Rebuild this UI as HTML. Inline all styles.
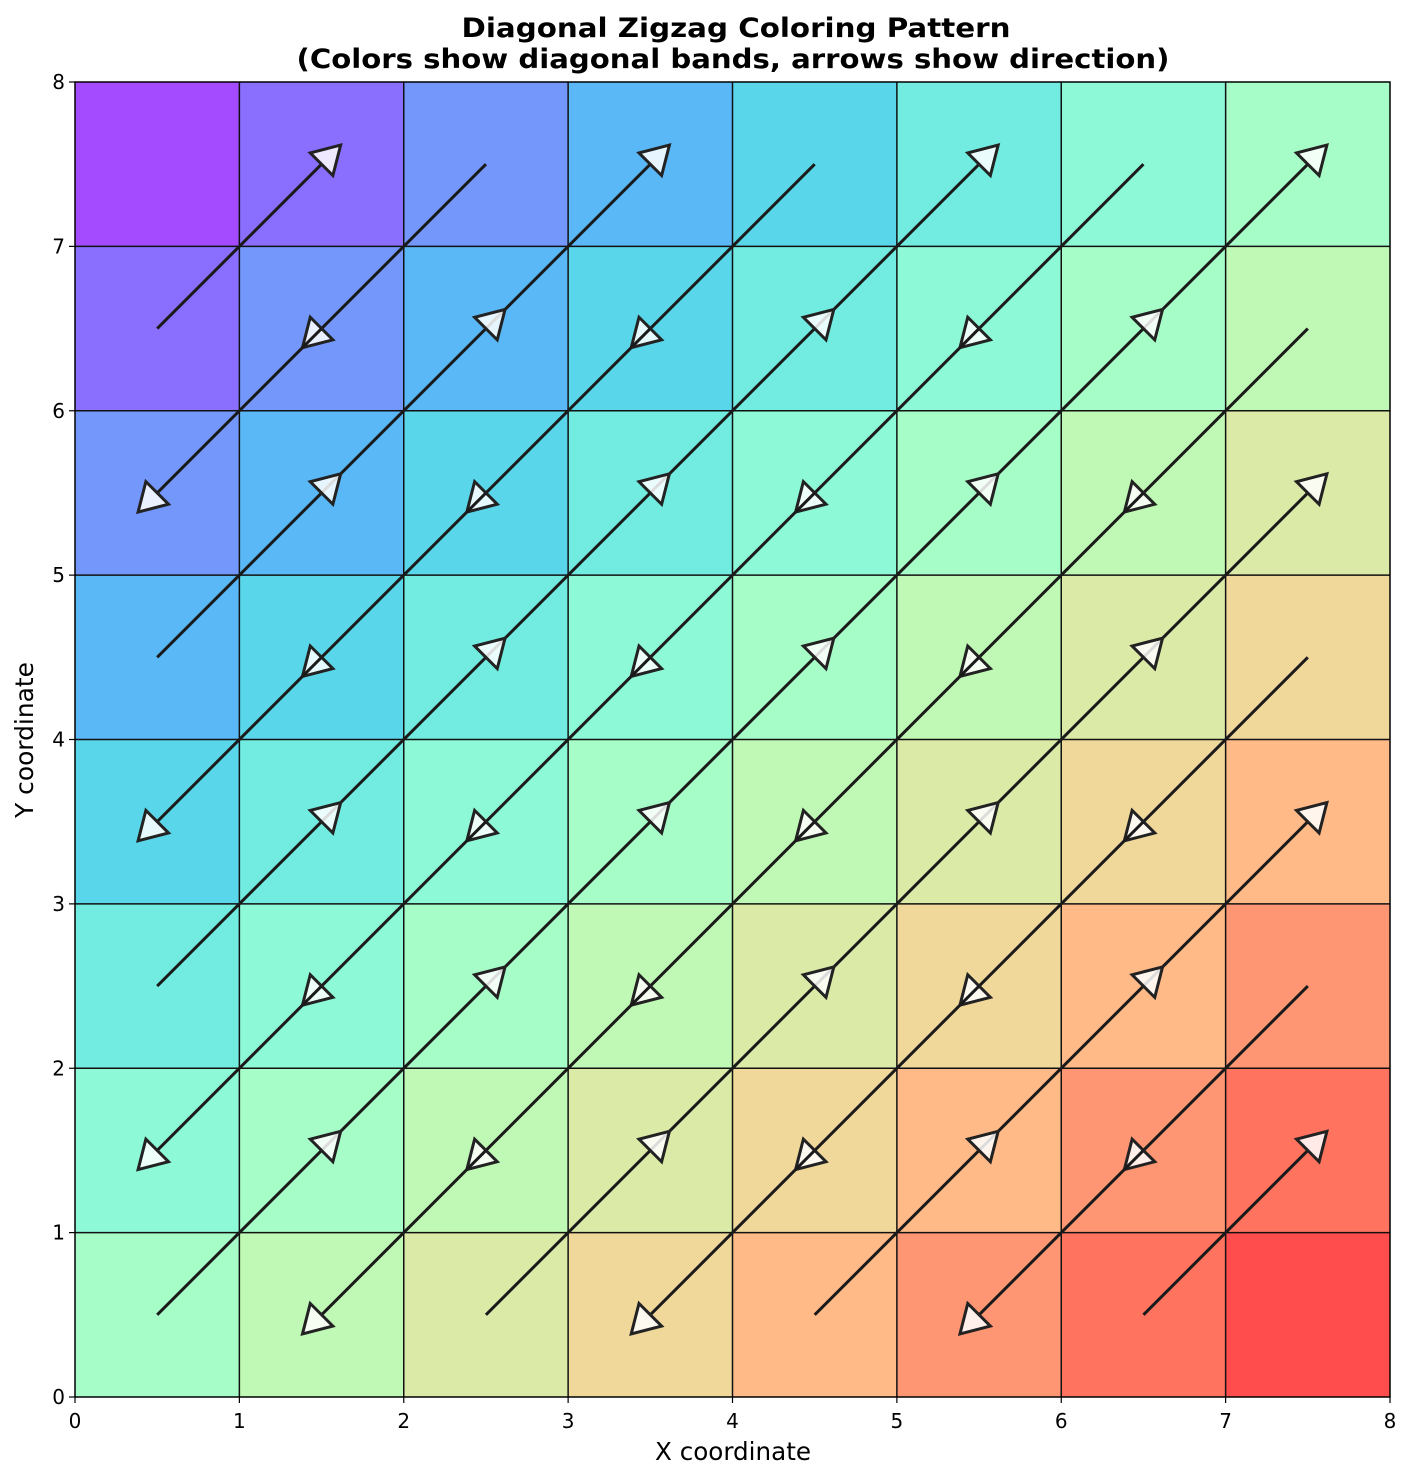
<!DOCTYPE html>
<html><head><meta charset="utf-8">
<style>
html,body{margin:0;padding:0;background:#fff;}
svg{display:block;font-family:"DejaVu Sans","Liberation Sans",sans-serif;}
</style></head>
<body>
<svg id="chart" width="1412" height="1479" viewBox="0 0 1412 1479">
<text x="736" y="37" text-anchor="middle" font-size="27" font-weight="bold" textLength="549" lengthAdjust="spacingAndGlyphs">Diagonal Zigzag Coloring Pattern</text>
<text x="733" y="68" text-anchor="middle" font-size="27" font-weight="bold" textLength="873" lengthAdjust="spacingAndGlyphs">(Colors show diagonal bands, arrows show direction)</text>
<g id="cells"></g><g id="grid"></g><g id="arrows"></g><g id="axes"></g>
<text x="733" y="1460" text-anchor="middle" font-size="25" textLength="156" lengthAdjust="spacingAndGlyphs">X coordinate</text>
<text transform="translate(33,740) rotate(-90)" text-anchor="middle" font-size="25" textLength="156" lengthAdjust="spacingAndGlyphs">Y coordinate</text>
</svg>
<script>
const bandColors = ["#a44aff","#8a6ffe","#7497fb","#5bb8f6","#5ad6ea","#72ece0","#8ef9d7","#a7fdc8","#c0f9b5","#dbeaa6","#f0d89b","#ffba87","#ff9673","#ff735f","#ff4d4d"];
const xTicks = [0,1,2,3,4,5,6,7,8];
const yTicks = [0,1,2,3,4,5,6,7,8];
const arrowX = [1.5,3.5,5.5,7.5, 1.5,2.5,3.5,4.5,5.5,6.5, 0.5,1.5,2.5,3.5,4.5,5.5,6.5,7.5, 1.5,2.5,3.5,4.5,5.5,6.5, 0.5,1.5,2.5,3.5,4.5,5.5,6.5,7.5, 1.5,2.5,3.5,4.5,5.5,6.5, 0.5,1.5,2.5,3.5,4.5,5.5,6.5,7.5, 1.5,3.5,5.5];
const arrowY = [7.5,7.5,7.5,7.5, 6.5,6.5,6.5,6.5,6.5,6.5, 5.5,5.5,5.5,5.5,5.5,5.5,5.5,5.5, 4.5,4.5,4.5,4.5,4.5,4.5, 3.5,3.5,3.5,3.5,3.5,3.5,3.5,3.5, 2.5,2.5,2.5,2.5,2.5,2.5, 1.5,1.5,1.5,1.5,1.5,1.5,1.5,1.5, 0.5,0.5,0.5];
const arrowDir = [1,1,1,1, -1,1,-1,1,-1,1, -1,1,-1,1,-1,1,-1,1, -1,1,-1,1,-1,1, -1,1,-1,1,-1,1,-1,1, -1,1,-1,1,-1,1, -1,1,-1,1,-1,1,-1,1, -1,-1,-1];

const NS="http://www.w3.org/2000/svg";
const X0=75,X1=1390,Y0=1397,Y1=82;
const sx=v=>X0+(X1-X0)*v/8, sy=v=>Y0-(Y0-Y1)*v/8;
function mk(tag,attrs,parent){const e=document.createElementNS(NS,tag);for(const k in attrs)e.setAttribute(k,attrs[k]);parent.appendChild(e);return e;}
const cells=document.getElementById('cells'),grid=document.getElementById('grid'),arrows=document.getElementById('arrows'),axes=document.getElementById('axes');
for(let i=0;i<8;i++)for(let j=0;j<8;j++){
  const r=mk('rect',{x:sx(i),y:sy(j+1),width:sx(i+1)-sx(i),height:sy(j)-sy(j+1),fill:bandColors[i-j+7]},cells);
  
  
}
for(let k=1;k<8;k++){
  const a=mk('line',{x1:sx(k),y1:Y1,x2:sx(k),y2:Y0,stroke:'#111','stroke-width':1.5},grid);
  
  
  const b=mk('line',{x1:X0,y1:sy(k),x2:X1,y2:sy(k),stroke:'#111','stroke-width':1.5},grid);
  
  
}
for(let n=0;n<arrowX.length;n++){
  const d=arrowDir[n];
  const cx=sx(arrowX[n]),cy=sy(arrowY[n]),tx=sx(arrowX[n]-d),ty=sy(arrowY[n]-d);
  const len=Math.hypot(cx-tx,cy-ty),ux=(cx-tx)/len,uy=(cy-ty)/len;
  const hl=27,hw=16,hx=cx+ux*hl,hy=cy+uy*hl;
  const g=mk('g',{},arrows);
  
  
  mk('line',{x1:tx,y1:ty,x2:cx,y2:cy,stroke:'#1a1a1a','stroke-width':3},g);
  mk('polygon',{points:`${hx},${hy} ${cx-uy*hw},${cy+ux*hw} ${cx+uy*hw},${cy-ux*hw}`,fill:'rgba(255,255,255,0.85)',stroke:'#222','stroke-width':3,'stroke-linejoin':'miter'},g);
}
mk('rect',{x:X0,y:Y1,width:X1-X0,height:Y0-Y1,fill:'none',stroke:'#000','stroke-width':1.5},axes);
xTicks.forEach(t=>{
  mk('line',{x1:sx(t),y1:Y0,x2:sx(t),y2:Y0+6,stroke:'#000','stroke-width':1.2},axes);
  const tx=mk('text',{x:sx(t),y:Y0+31,'text-anchor':'middle','font-size':20},axes);tx.textContent=t;
  
  
});
yTicks.forEach(t=>{
  mk('line',{x1:X0-6,y1:sy(t),x2:X0,y2:sy(t),stroke:'#000','stroke-width':1.2},axes);
  const tx=mk('text',{x:X0-10,y:sy(t)+7,'text-anchor':'end','font-size':20},axes);tx.textContent=t;
  
  
});
</script>
</body></html>
